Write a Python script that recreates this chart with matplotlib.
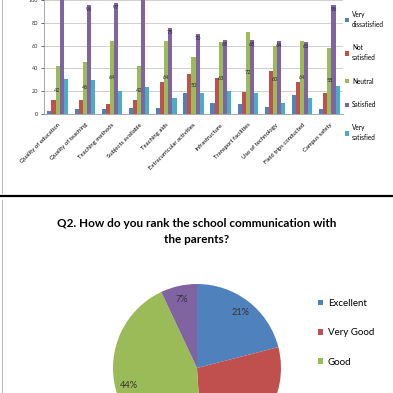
import numpy as np
import matplotlib
matplotlib.use("Agg")
import matplotlib.pyplot as plt
from matplotlib.lines import Line2D

plt.rcParams['font.family'] = ['Lato', 'DejaVu Sans']

# Bar chart data (Q1 satisfaction)
categories = ["Quality of education", "Quality of teaching", "Teaching methods",
              "Subjects available", "Teaching aids", "Extracurricular activities",
              "Infrastructure", "Transport facilities", "Use of technology",
              "Field trips conducted", "Campus safety"]
series_names = ["Very\ndissatisfied", "Not\nsatisfied", "Neutral", "Satisfied", "Very\nsatisfied"]
very_dissatisfied = [3, 4, 4, 5, 5, 18, 10, 9, 6, 17, 4]
not_satisfied = [12, 12, 9, 12, 28, 35, 32, 19, 38, 28, 18]
neutral = [42, 46, 64, 42, 64, 50, 63, 72, 60, 64, 58]
satisfied = [104, 96, 97, 110, 75, 70, 65, 65, 64, 63, 96]
very_satisfied = [31, 30, 20, 24, 14, 18, 20, 18, 10, 14, 25]

# Pie chart data (Q2)
pie_labels = ["Excellent", "Very Good", "Good", "Poor"]
pie_values = [21, 28, 44, 7]

bar_colors = ["#4F81BD", "#C0504D", "#9BBB59", "#8064A2", "#4BACC6"]

fig = plt.figure(figsize=(3.93, 3.93), dpi=100)
W = 393.0

def fx(px):
    return px / W

def fy(px):
    return 1 - px / W

# ---- top: clustered bars ----
ax = fig.add_axes([fx(44), fy(114), fx(343) - fx(44), fy(0) - fy(114)])
x = np.arange(len(categories))
bw = 0.15
all_series = [very_dissatisfied, not_satisfied, neutral, satisfied, very_satisfied]
containers = []
for i, vals in enumerate(all_series):
    c = ax.bar(x + (i - 2) * bw, vals, bw, color=bar_colors[i], label=series_names[i], zorder=3)
    containers.append(c)

ax.bar_label(containers[2], label_type='center', fontsize=4, color='#222222')
ax.bar_label(containers[3], label_type='edge', padding=-5, fontsize=4, color='#222244', clip_on=True)

ax.set_ylim(0, 100)
ax.set_xlim(-0.5, len(categories) - 0.5)
ax.set_yticks([0, 20, 40, 60, 80, 100])
ax.yaxis.grid(True, color='#c8c8c8', lw=0.6, zorder=0)
ax.set_xticks(x)
ax.set_xticklabels(categories, rotation=45, ha='right', rotation_mode='anchor', fontsize=4.3)
ax.tick_params(axis='x', length=0, pad=6)
ax.tick_params(axis='y', labelsize=4, length=2, width=0.5, colors='#333333', pad=2)
for s in ['top', 'right']:
    ax.spines[s].set_visible(False)
ax.spines['left'].set_color('#999999')
ax.spines['bottom'].set_color('#999999')
ax.spines['left'].set_linewidth(0.6)
ax.spines['bottom'].set_linewidth(0.6)

leg = ax.legend(loc='upper left', bbox_to_anchor=(fx(345), fy(11)), bbox_transform=fig.transFigure,
                frameon=False, fontsize=4.7, handlelength=0.6, handleheight=0.6, handletextpad=0.5,
                labelspacing=2.5, borderpad=0, borderaxespad=0)
for t in leg.get_texts():
    t.set_linespacing(1.5)

# frame borders and page divider
fig.add_artist(Line2D([fx(2), fx(2)], [fy(0), fy(193)], transform=fig.transFigure, color='#bbbbbb', lw=0.8))
fig.add_artist(Line2D([fx(2), fx(2)], [fy(200), fy(393)], transform=fig.transFigure, color='#bbbbbb', lw=0.8))
fig.add_artist(Line2D([0, 1], [fy(196), fy(196)], transform=fig.transFigure, color='black', lw=1.6))

# ---- bottom: pie ----
fig.text(fx(197), fy(231.5), "Q2. How do you rank the school communication with\nthe parents?",
         ha='center', va='center', fontsize=8.5, fontweight='bold', linespacing=1.45)

r = 84
pax = fig.add_axes([fx(197 - r), fy(368 + r), fx(2 * r), fx(2 * r)])
wedges, _, autotexts = pax.pie(pie_values, colors=["#4F81BD", "#C0504D", "#9BBB59", "#8064A2"],
                               startangle=90, counterclock=False, autopct='%d%%',
                               pctdistance=0.84, textprops={'fontsize': 6.6, 'color': '#333333'})
autotexts[1].set_visible(False)  # falls below the visible area
pax.set_xlim(-1, 1)
pax.set_ylim(-1, 1)
pax.set_aspect('equal')

fig.legend(wedges[:3], pie_labels[:3], loc='upper left', bbox_to_anchor=(fx(318), fy(299)),
           frameon=False, fontsize=7, handlelength=0.55, handleheight=0.55, handletextpad=0.45,
           labelspacing=2.1, borderpad=0, borderaxespad=0)

fig.savefig("out.png", dpi=100)
